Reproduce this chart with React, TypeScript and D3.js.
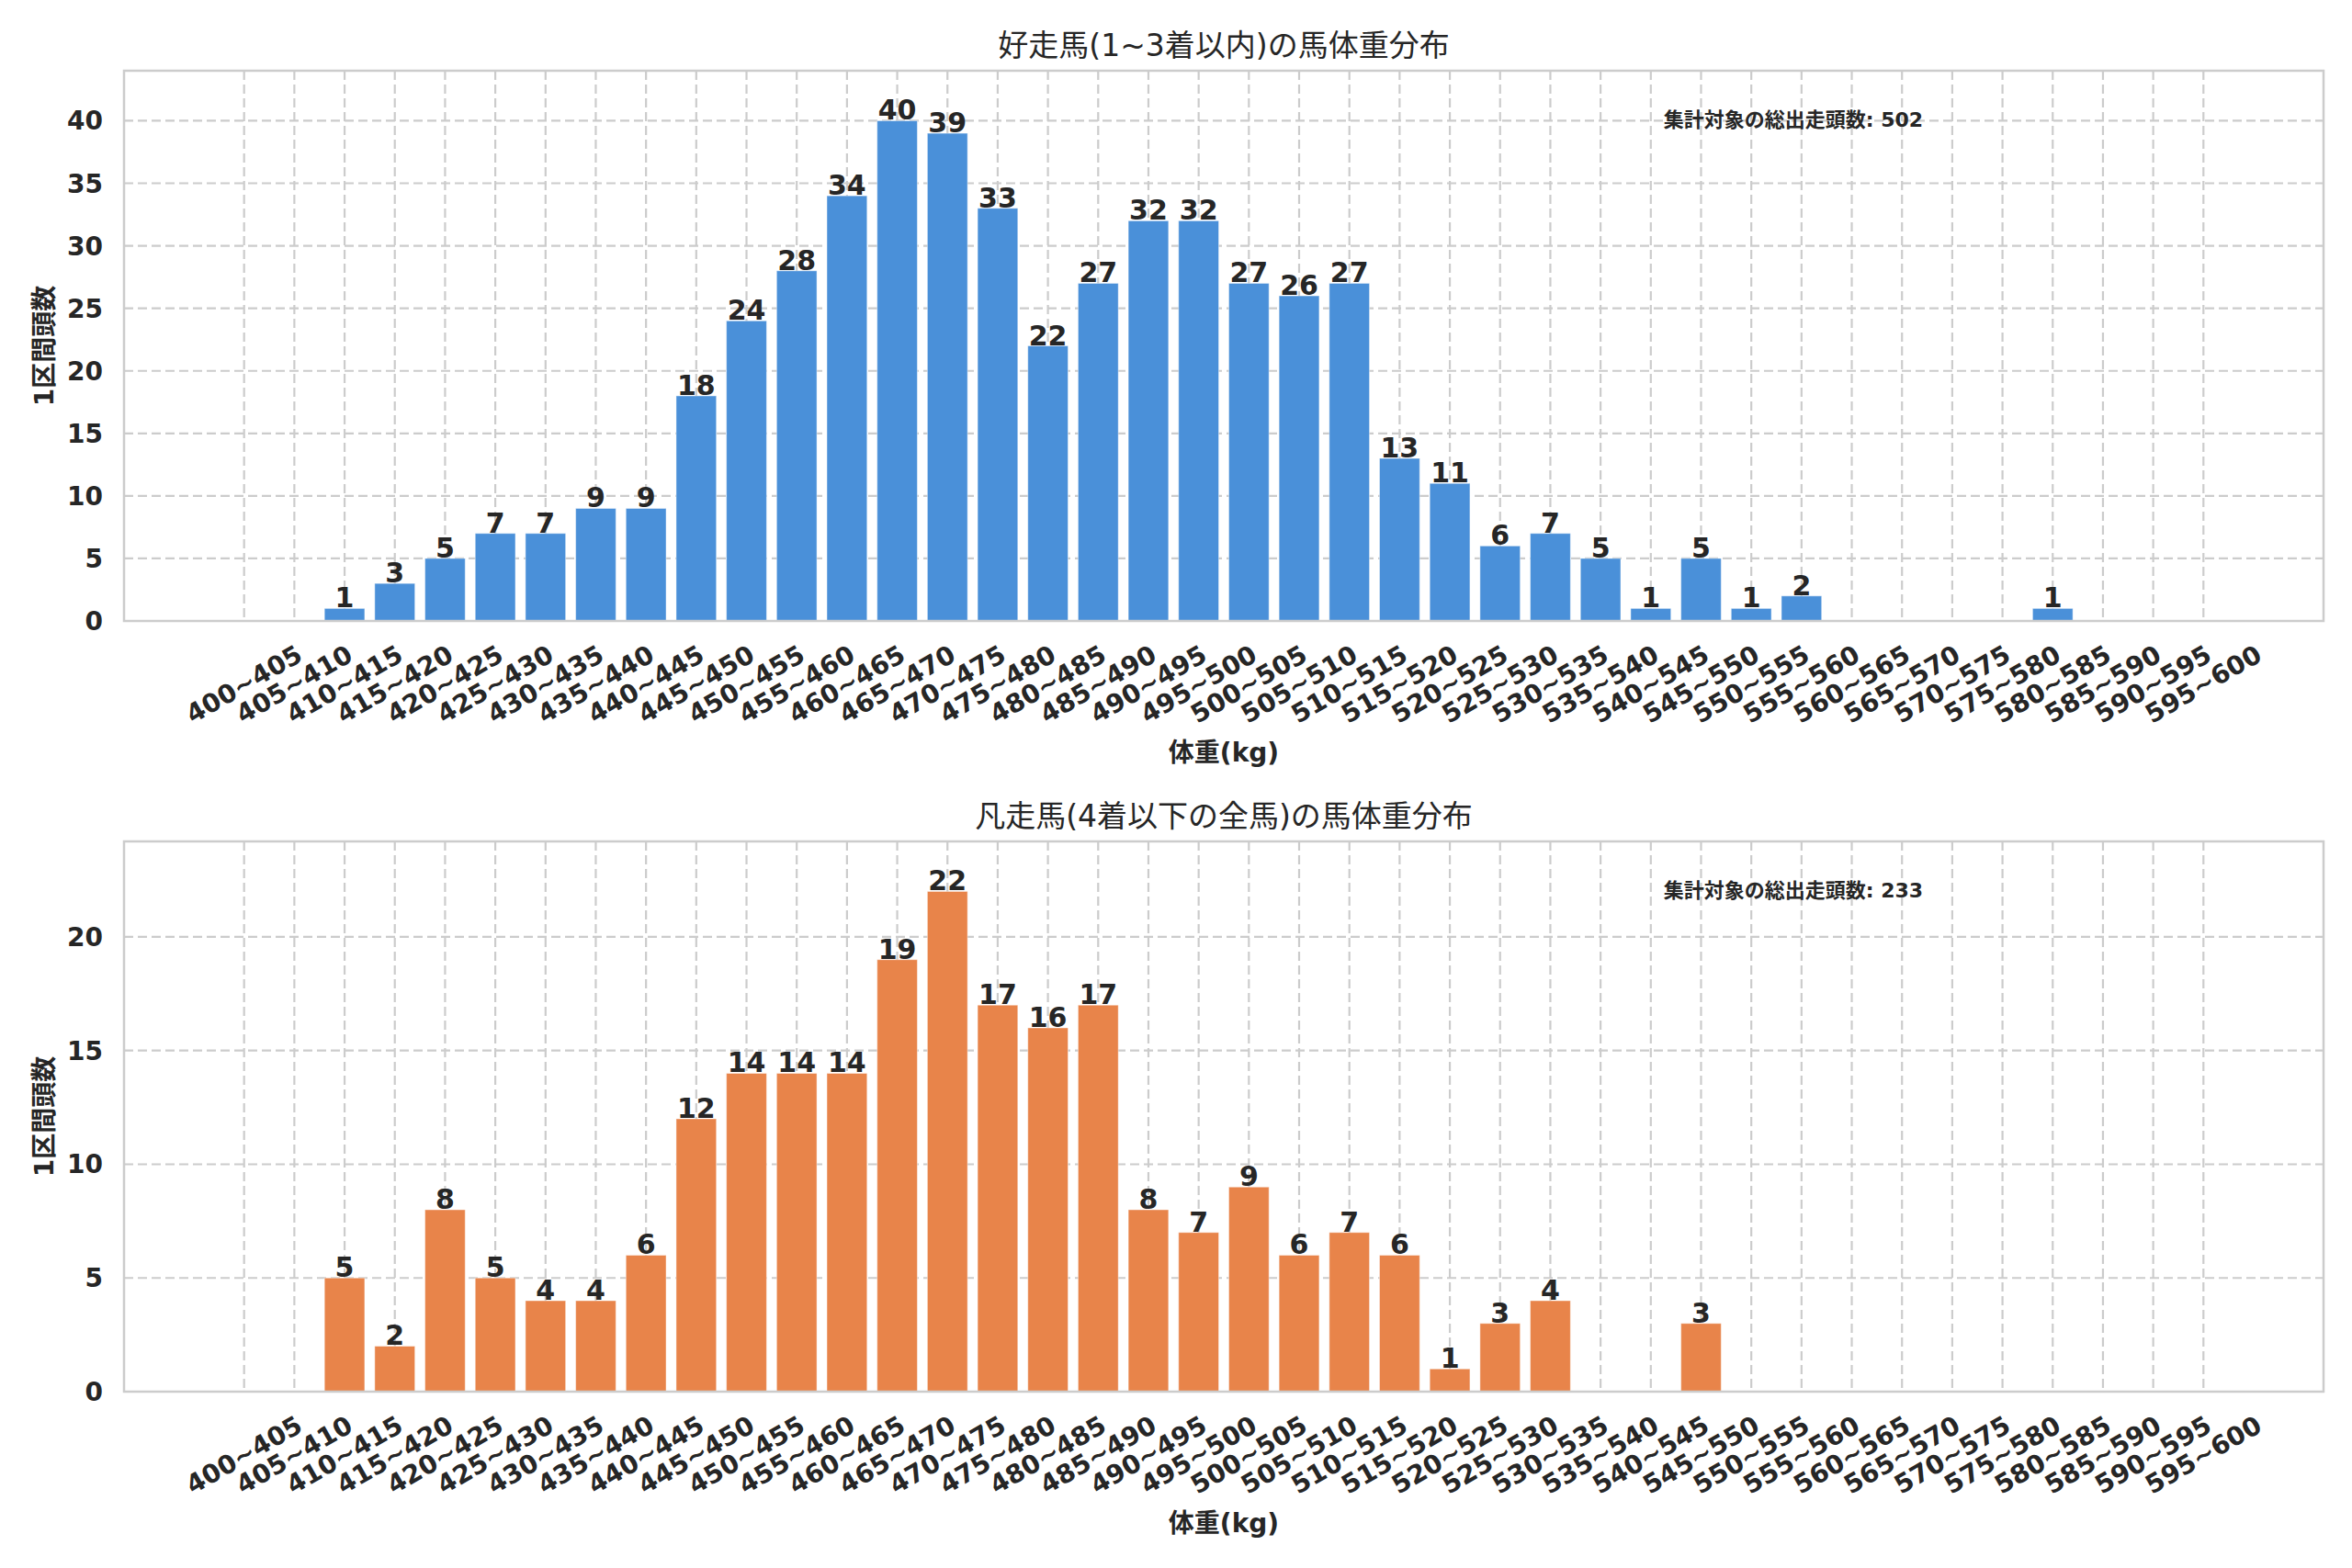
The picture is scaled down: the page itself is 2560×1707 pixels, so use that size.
import { useEffect, useRef } from 'react'
import * as d3 from 'd3'

// weight bins, 5kg wide
const BINS = d3.range(400, 600, 5).map(v => `${v}~${v + 5}`)

const TOP_COUNTS = [
  0, 0, 1, 3, 5, 7, 7, 9, 9, 18,
  24, 28, 34, 40, 39, 33, 22, 27, 32, 32,
  27, 26, 27, 13, 11, 6, 7, 5, 1, 5,
  1, 2, 0, 0, 0, 0, 1, 0, 0, 0,
]

const BOTTOM_COUNTS = [
  0, 0, 5, 2, 8, 5, 4, 4, 6, 12,
  14, 14, 14, 19, 22, 17, 16, 17, 8, 7,
  9, 6, 7, 6, 1, 3, 4, 0, 0, 3,
  0, 0, 0, 0, 0, 0, 0, 0, 0, 0,
]

const TOP_TICKS = [0, 5, 10, 15, 20, 25, 30, 35, 40]
const BOTTOM_TICKS = [0, 5, 10, 15, 20]

const PANELS = [
  {
    title: '好走馬(1~3着以内)の馬体重分布',
    counts: TOP_COUNTS,
    ticks: TOP_TICKS,
    color: '#4a90d9',
    total: 502,
  },
  {
    title: '凡走馬(4着以下の全馬)の馬体重分布',
    counts: BOTTOM_COUNTS,
    ticks: BOTTOM_TICKS,
    color: '#e8844a',
    total: 233,
  },
]

const W = 2560
const H = 1707
const LEFT = 135
const RIGHT = 2529
const PANEL_TOP = [77, 916]
const PANEL_H = 599
const INK = '#262626'
const RULE = '#cccccc'
const FONT = "'DejaVu Sans', 'Noto Sans CJK JP', sans-serif"

export default function App() {
  const svgRef = useRef<SVGSVGElement>(null)

  useEffect(() => {
    document.body.style.margin = '0'
    if (!svgRef.current) return
    const svg = d3.select(svgRef.current)
    svg.selectAll('*').remove()
    svg.append('rect').attr('width', W).attr('height', H).attr('fill', '#fff')

    const n = BINS.length
    // matplotlib-style: bar width 0.8, 5% margins
    const span = (n - 1) + 0.8
    const pad = span * 0.05
    const x = d3.scaleLinear()
      .domain([-0.4 - pad, n - 1 + 0.4 + pad])
      .range([LEFT, RIGHT])
    const bw = x(0.8) - x(0)

    PANELS.forEach((p, pi) => {
      const top = PANEL_TOP[pi]
      const bottom = top + PANEL_H
      const maxV = d3.max(p.counts)!
      const y = d3.scaleLinear().domain([0, maxV * 1.1]).range([bottom, top])
      const g = svg.append('g')

      // grid
      g.selectAll('.vgrid').data(BINS).join('line')
        .attr('x1', (_, i) => x(i)).attr('x2', (_, i) => x(i))
        .attr('y1', top).attr('y2', bottom)
        .attr('stroke', RULE).attr('stroke-width', 2.2).attr('stroke-dasharray', '10,5')
      g.selectAll('.hgrid').data(p.ticks).join('line')
        .attr('x1', LEFT).attr('x2', RIGHT)
        .attr('y1', d => y(d)).attr('y2', d => y(d))
        .attr('stroke', RULE).attr('stroke-width', 2.2).attr('stroke-dasharray', '10,5')

      // bars
      g.selectAll('.bar').data(p.counts).join('rect')
        .attr('x', (_, i) => x(i) - bw / 2)
        .attr('y', d => y(d))
        .attr('width', bw)
        .attr('height', d => bottom - y(d))
        .attr('fill', p.color)
        .attr('stroke', 'rgba(255,255,255,0.45)').attr('stroke-width', 1)

      // bar value labels
      g.selectAll('.val').data(p.counts.map((v, i) => ({ v, i })).filter(d => d.v > 0)).join('text')
        .attr('x', d => x(d.i))
        .attr('y', d => y(d.v) - 1)
        .attr('text-anchor', 'middle')
        .attr('font-family', FONT).attr('font-weight', 'bold').attr('font-size', 30)
        .attr('fill', INK)
        .text(d => d.v)

      // spines
      g.append('rect')
        .attr('x', LEFT).attr('y', top).attr('width', RIGHT - LEFT).attr('height', PANEL_H)
        .attr('fill', 'none').attr('stroke', RULE).attr('stroke-width', 2.5)

      // y ticks
      g.selectAll('.ytick').data(p.ticks).join('text')
        .attr('x', LEFT - 23)
        .attr('y', d => y(d) + 10)
        .attr('text-anchor', 'end')
        .attr('font-family', FONT).attr('font-weight', 'bold').attr('font-size', 28)
        .attr('fill', INK)
        .text(d => d)

      // x ticks, rotated 30deg, centred on tick
      g.selectAll('.xtick').data(BINS).join('text')
        .attr('transform', (_, i) => `translate(${x(i)},${bottom + 69}) rotate(-30)`)
        .attr('text-anchor', 'middle')
        .attr('dominant-baseline', 'central')
        .attr('font-family', FONT).attr('font-weight', 'bold').attr('font-size', 28)
        .attr('fill', INK)
        .text(d => d)

      // title
      g.append('text')
        .attr('x', (LEFT + RIGHT) / 2).attr('y', top - 16)
        .attr('text-anchor', 'middle')
        .attr('font-family', FONT).attr('font-size', 33)
        .attr('fill', INK)
        .text(p.title)

      // axis labels
      g.append('text')
        .attr('x', (LEFT + RIGHT) / 2).attr('y', bottom + 153)
        .attr('text-anchor', 'middle')
        .attr('font-family', FONT).attr('font-weight', 'bold').attr('font-size', 28)
        .attr('fill', INK)
        .text('体重(kg)')
      g.append('text')
        .attr('transform', `translate(58,${top + PANEL_H / 2}) rotate(-90)`)
        .attr('text-anchor', 'middle')
        .attr('font-family', FONT).attr('font-weight', 'bold').attr('font-size', 28)
        .attr('fill', INK)
        .text('1区間頭数')

      // total annotation
      g.append('text')
        .attr('x', LEFT + (RIGHT - LEFT) * 0.7).attr('y', top + 61)
        .attr('font-family', FONT).attr('font-weight', 'bold').attr('font-size', 22)
        .attr('fill', INK)
        .text(`集計対象の総出走頭数: ${p.total}`)
    })
  }, [])

  return <svg ref={svgRef} width={W} height={H} style={{ display: 'block' }} />
}
